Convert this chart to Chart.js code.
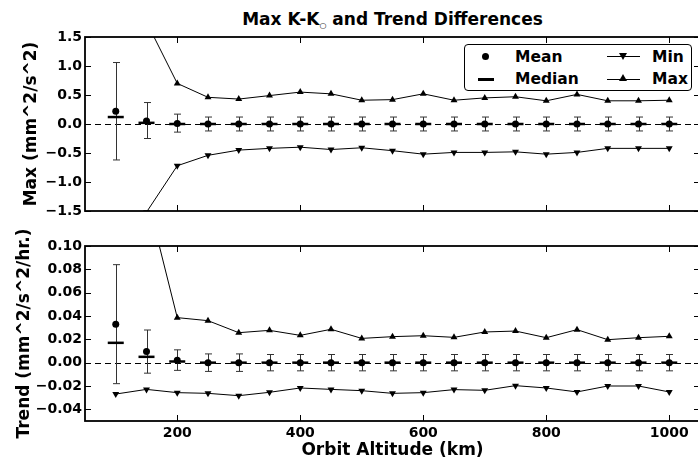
<!DOCTYPE html>
<html>
<head>
<meta charset="utf-8">
<script src="https://cdn.jsdelivr.net/npm/chart.js@4.4.0/dist/chart.umd.min.js"></script>
<style>
  body { margin: 0; width: 698px; height: 461px; overflow: hidden; background: #fff; position: relative;
         font-family: "DejaVu Sans", sans-serif; font-weight: bold; color: #000; }
  #title { position: absolute; left: 85px; width: 615px; top: 9px; text-align: center; font-size: 17px; line-height: 20px; }
  #title sub { font-size: 8px; font-weight: normal; vertical-align: -3px; }
  .panel { position: absolute; left: 0; width: 702px; }
  #legend { position: absolute; left: 464px; top: 44px; width: 226px; height: 45px; border: 1px solid #000;
            border-radius: 4px; background: #fff; font-size: 15.5px; }
  #legend .t { position: absolute; line-height: 20px; }
  #legend .dot { position: absolute; width: 7px; height: 7px; border-radius: 50%; background: #000; }
  #legend .bar { position: absolute; background: #000; }
  #legend .dn, #legend .up { position: absolute; width: 0; height: 0; border-left: 4px solid transparent; border-right: 4px solid transparent; }
  #legend .dn { border-top: 7px solid #000; }
  #legend .up { border-bottom: 7px solid #000; }
</style>
</head>
<body>
<div id="title">Max K-K<sub>○</sub> and Trend Differences</div>
<div class="panel" style="top:0;height:225px"><canvas id="max-chart" width="702" height="225"></canvas></div>
<div class="panel" style="top:225px;height:236px"><canvas id="trend-chart" width="702" height="236"></canvas></div>
<div id="legend">
  <span class="dot" style="left:17px;top:8px"></span>
  <span class="t" style="left:50px;top:2px">Mean</span>
  <span class="bar" style="left:13px;top:33px;width:16px;height:2.5px"></span>
  <span class="t" style="left:50px;top:24px">Median</span>
  <span class="bar" style="left:142px;top:11px;width:33px;height:1px"></span>
  <span class="dn" style="left:154px;top:8px"></span>
  <span class="t" style="left:187px;top:2px">Min</span>
  <span class="bar" style="left:142px;top:34px;width:33px;height:1px"></span>
  <span class="up" style="left:154px;top:29px"></span>
  <span class="t" style="left:187px;top:24px">Max</span>
</div>
<script>
// orbit altitudes (km) and tick labels
const altitudes = [100, 150, 200, 250, 300, 350, 400, 450, 500, 550, 600, 650, 700, 750, 800, 850, 900, 950, 1000];
const xTicks = [200, 400, 600, 800, 1000];
const maxTicks = [-1.5, -1.0, -0.5, 0.0, 0.5, 1.0, 1.5];
const trendTicks = [-0.04, -0.02, 0.00, 0.02, 0.04, 0.06, 0.08, 0.10];

// top panel: Max K-K0 (mm^2/s^2)
const maxMean   = [0.22, 0.05, 0.01, 0, 0, 0, 0, 0, 0, 0, 0, 0, 0, 0, 0, 0, 0, 0, 0];
const maxMedian = [0.12, 0.02, 0, 0, 0, 0, 0, 0, 0, 0, 0, 0, 0, 0, 0, 0, 0, 0, 0];
const maxErrHigh = [1.06, 0.37, 0.17, 0.12, 0.12, 0.12, 0.12, 0.12, 0.12, 0.12, 0.12, 0.12, 0.12, 0.12, 0.12, 0.12, 0.12, 0.12, 0.12];
const maxErrLow  = [-0.62, -0.25, -0.14, -0.12, -0.12, -0.12, -0.12, -0.12, -0.12, -0.12, -0.12, -0.12, -0.12, -0.12, -0.12, -0.12, -0.12, -0.12, -0.12];
const maxMin = [-3.0, -1.52, -0.72, -0.54, -0.45, -0.42, -0.40, -0.44, -0.41, -0.46, -0.52, -0.49, -0.49, -0.48, -0.52, -0.49, -0.42, -0.42, -0.42];
const maxMax = [3.2, 1.76, 0.70, 0.46, 0.43, 0.49, 0.55, 0.52, 0.41, 0.42, 0.52, 0.41, 0.45, 0.47, 0.40, 0.51, 0.40, 0.40, 0.41];

// bottom panel: Trend (mm^2/s^2/hr.)
const trendMean   = [0.033, 0.0095, 0.002, 0, 0, 0, 0, 0, 0, 0, 0, 0, 0, 0, 0, 0, 0, 0, 0];
const trendMedian = [0.017, 0.005, 0.001, 0, 0, 0, 0, 0, 0, 0, 0, 0, 0, 0, 0, 0, 0, 0, 0];
const trendErrHigh = [0.084, 0.028, 0.011, 0.0075, 0.0075, 0.007, 0.007, 0.007, 0.007, 0.007, 0.007, 0.007, 0.007, 0.007, 0.007, 0.007, 0.007, 0.007, 0.007];
const trendErrLow  = [-0.018, -0.009, -0.0066, -0.0075, -0.0075, -0.007, -0.007, -0.007, -0.007, -0.007, -0.007, -0.007, -0.007, -0.007, -0.007, -0.007, -0.007, -0.007, -0.007];
const trendMin = [-0.0269, -0.0229, -0.0257, -0.0263, -0.0283, -0.0254, -0.0217, -0.0229, -0.0240, -0.0263, -0.0257, -0.0231, -0.0237, -0.0197, -0.0217, -0.0251, -0.0200, -0.0200, -0.0251];
const trendMax = [0.35, 0.144, 0.0386, 0.0360, 0.0257, 0.0277, 0.0234, 0.0286, 0.0208, 0.0223, 0.0231, 0.0217, 0.0263, 0.0271, 0.0214, 0.0283, 0.0197, 0.0214, 0.0226];

Chart.defaults.font.family = "'DejaVu Sans', sans-serif";
Chart.defaults.font.size = 14;
Chart.defaults.font.weight = 'bold';
Chart.defaults.color = '#000';

function points(values) {
    return altitudes.map((a, i) => ({ x: a, y: values[i] }));
}

function minus(s) {
    return s.replace('-', '\u2212');
}

// dashed zero line, error bars, frame and inward ticks
const decorations = {
    id: 'decorations',
    beforeDatasetsDraw(chart) {
        const { ctx, chartArea: a, scales: { x, y } } = chart;
        ctx.save();
        ctx.beginPath();
        ctx.rect(a.left, a.top, a.right - a.left, a.bottom - a.top);
        ctx.clip();
        const y0 = Math.round(y.getPixelForValue(0)) + 0.5;
        ctx.strokeStyle = '#000';
        ctx.lineWidth = 1;
        ctx.setLineDash([6, 4]);
        ctx.beginPath();
        ctx.moveTo(a.left, y0);
        ctx.lineTo(a.right, y0);
        ctx.stroke();
        ctx.setLineDash([]);
        const ds = chart.data.datasets[0];
        ctx.strokeStyle = '#333';
        ds.data.forEach((p, i) => {
            const px = Math.round(x.getPixelForValue(p.x)) + 0.5;
            const lo = y.getPixelForValue(ds.errLow[i]);
            const hi = y.getPixelForValue(ds.errHigh[i]);
            ctx.beginPath();
            ctx.moveTo(px, lo); ctx.lineTo(px, hi);
            ctx.moveTo(px - 3.5, lo); ctx.lineTo(px + 3.5, lo);
            ctx.moveTo(px - 3.5, hi); ctx.lineTo(px + 3.5, hi);
            ctx.stroke();
        });
        ctx.restore();
    },
    afterDraw(chart) {
        const { ctx, chartArea: a, scales: { x, y } } = chart;
        const yTicks = chart.options.yTickValues;
        ctx.save();
        ctx.strokeStyle = '#000';
        ctx.lineWidth = 1;
        ctx.beginPath();
        xTicks.forEach(v => {
            const px = Math.round(x.getPixelForValue(v)) + 0.5;
            ctx.moveTo(px, a.bottom); ctx.lineTo(px, a.bottom - 6);
            ctx.moveTo(px, a.top); ctx.lineTo(px, a.top + 6);
        });
        yTicks.forEach(v => {
            const py = Math.round(y.getPixelForValue(v)) + 0.5;
            ctx.moveTo(a.left, py); ctx.lineTo(a.left + 6, py);
            ctx.moveTo(a.right, py); ctx.lineTo(a.right - 6, py);
        });
        ctx.stroke();
        ctx.lineWidth = 1.8;
        ctx.strokeRect(a.left, a.top, a.right - a.left, a.bottom - a.top);
        ctx.restore();
    }
};

function makeDatasets(mean, median, errLow, errHigh, mn, mx) {
    return [
        { label: 'Mean', data: points(mean), errLow: errLow, errHigh: errHigh, showLine: false,
          pointStyle: 'circle', pointRadius: 3.5, backgroundColor: '#000', borderColor: '#000', borderWidth: 0 },
        { label: 'Median', data: points(median), showLine: false,
          pointStyle: 'line', pointRadius: 8, borderColor: '#000', borderWidth: 2.5 },
        { label: 'Min', data: points(mn), borderColor: '#000', borderWidth: 1, backgroundColor: '#000',
          pointStyle: 'triangle', rotation: 180, pointRadius: 4, pointBorderWidth: 0 },
        { label: 'Max', data: points(mx), borderColor: '#000', borderWidth: 1, backgroundColor: '#000',
          pointStyle: 'triangle', pointRadius: 4, pointBorderWidth: 0 }
    ];
}

function makeChart(id, cfg) {
    const ctx = document.getElementById(id).getContext('2d');
    return new Chart(ctx, {
        type: 'line',
        data: { datasets: cfg.datasets },
        options: {
            responsive: false,
            animation: false,
            events: [],
            yTickValues: cfg.yTicks,
            layout: { padding: cfg.padding, autoPadding: false },
            plugins: { legend: { display: false }, tooltip: { enabled: false } },
            scales: {
                x: {
                    type: 'linear', min: 50, max: 1050,
                    display: cfg.showX,
                    grid: { display: false, drawTicks: false },
                    border: { display: false },
                    afterBuildTicks: s => { s.ticks = xTicks.map(v => ({ value: v })); },
                    afterFit: s => {
                        s.height = cfg.showX ? 40 : 0;
                        s.paddingLeft = 0;
                        s.paddingRight = 0;
                    },
                    ticks: { padding: 4, maxRotation: 0, callback: v => String(v) },
                    title: { display: cfg.showX, text: 'Orbit Altitude (km)', font: { size: 17 }, padding: { top: 0, bottom: 0 } }
                },
                y: {
                    min: cfg.yMin, max: cfg.yMax,
                    grid: { display: false, drawTicks: false },
                    border: { display: false },
                    afterBuildTicks: s => { s.ticks = cfg.yTicks.map(v => ({ value: v })); },
                    afterFit: s => { s.width = 85; s.paddingTop = 0; s.paddingBottom = 0; },
                    ticks: { padding: 3, callback: v => minus(v.toFixed(cfg.digits)) },
                    title: { display: true, text: cfg.yTitle, font: { size: 17 }, padding: { top: cfg.titlePad, bottom: 0 } }
                }
            }
        },
        plugins: [decorations]
    });
}

document.addEventListener('DOMContentLoaded', function() {
    makeChart('max-chart', {
        datasets: makeDatasets(maxMean, maxMedian, maxErrLow, maxErrHigh, maxMin, maxMax),
        yMin: -1.5, yMax: 1.5, yTicks: maxTicks, digits: 1,
        yTitle: 'Max (mm^2/s^2)', titlePad: 21, showX: false,
        padding: { top: 37, bottom: 14, right: 2, left: 0 }
    });
    makeChart('trend-chart', {
        datasets: makeDatasets(trendMean, trendMedian, trendErrLow, trendErrHigh, trendMin, trendMax),
        yMin: -0.05, yMax: 0.10, yTicks: trendTicks, digits: 2,
        yTitle: 'Trend (mm^2/s^2/hr.)', titlePad: 14, showX: true,
        padding: { top: 21, bottom: 0, right: 2, left: 0 }
    });
});
</script>
</body>
</html>
